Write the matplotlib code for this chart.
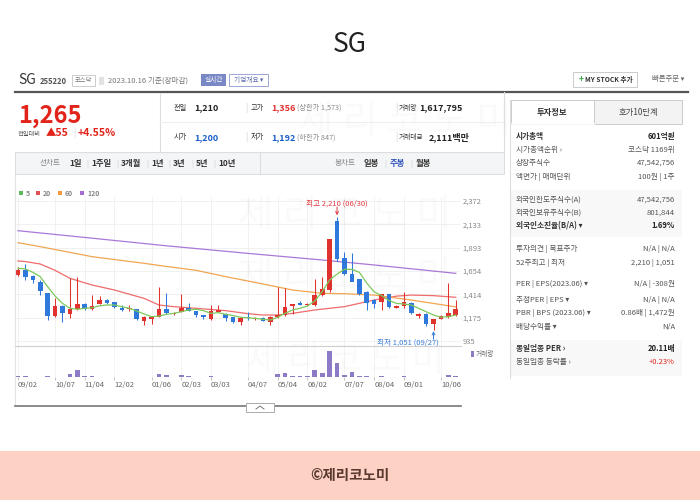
import matplotlib
matplotlib.use('Agg')
import matplotlib.pyplot as plt
from matplotlib.patches import Rectangle
from matplotlib.lines import Line2D

plt.rcParams['font.family'] = ['Noto Sans CJK KR', 'DejaVu Sans']

# ---------------- data ----------------
opens  = [1610,1665,1600,1540,1430,1195,1295,1210,1262,1310,1265,1318,1355,1330,1275,1262,1260,1142,1165,1183,
          1258,1210,1235,1275,1240,1200,1165,1235,1215,1180,1130,1185,1165,1175,1130,1180,1200,1290,1320,1300,
          1305,1405,1455,2170,1785,1620,1568,1440,1355,1338,1414,1276,1294,1322,1190,1212,1105,1165,1180,1200]
highs  = [1690,1730,1610,1560,1430,1375,1300,1580,1590,1320,1405,1400,1362,1335,1300,1300,1262,1190,1183,1486,
          1425,1230,1415,1320,1245,1205,1305,1305,1220,1185,1185,1230,1180,1180,1190,1486,1476,1310,1345,1320,
          1570,1595,1985,2210,1850,1840,1575,1450,1370,1420,1420,1300,1440,1330,1220,1225,1160,1200,1533,1356]
lows   = [1600,1560,1530,1405,1150,1180,1130,1170,1255,1250,1255,1310,1318,1270,1245,1245,1150,1095,1110,1180,
          1210,1205,1230,1240,1180,1165,1150,1230,1140,1120,1100,1150,1145,1135,1095,1175,1190,1215,1300,1295,
          1290,1395,1440,1760,1610,1590,1410,1253,1270,1253,1270,1270,1270,1210,1175,1092,1051,1160,1170,1192]
closes = [1665,1590,1560,1450,1190,1295,1220,1262,1312,1262,1290,1355,1322,1280,1255,1275,1157,1183,1183,1258,
          1218,1225,1275,1245,1200,1180,1245,1250,1175,1125,1175,1170,1172,1142,1183,1200,1286,1310,1305,1315,
          1405,1465,1980,1773,1623,1543,1417,1322,1314,1414,1287,1295,1338,1218,1212,1109,1157,1195,1225,1265]
volumes = [1.3,1.3,0.8,0.8,1.3,0.8,0.8,4.3,10.7,1.3,1.3,0.8,0.5,0.5,0.5,0.5,0.8,0.5,0.5,5.4,
           2.7,0.5,2.7,1.3,0.5,0.5,1.3,0.8,0.5,0.5,0.5,0.5,0.5,0.5,0.5,5.4,7.0,1.6,1.3,1.3,
           11.8,7.0,41.1,22.4,3.2,8.0,1.6,1.3,0.8,1.3,0.8,0.5,1.3,0.8,0.5,0.8,0.8,0.8,3.8,1.6]

ma5 = [1681,1675,1640,1595,1492,1396,1321,1270,1260,1270,1276,1296,1304,1304,1287,1270,1242,1212,1184,1190,
       1208,1218,1235,1253,1260,1246,1218,1225,1208,1195,1178,1172,1167,1157,1150,1178,1218,1253,1270,1294,
       1345,1441,1561,1622,1670,1670,1640,1530,1440,1400,1350,1321,1314,1304,1270,1235,1201,1178,1184,1201]
ma20_idx = [0,1,3,5,7,10,13,17,19,21,24,28,31,33,35,37,40,44,48,51,53,56,59]
ma20 = [1756,1750,1725,1660,1578,1509,1458,1372,1304,1287,1270,1246,1215,1201,1201,1218,1253,1287,1355,1395,1406,1400,1383]
ma60_idx = [0,3,10,17,20,24,28,33,37,41,44,48,53,59]
ma60 = [1944,1903,1800,1732,1700,1660,1595,1520,1458,1424,1420,1406,1355,1285]
ma120_idx = [0,10,20,31,41,48,59]
ma120 = [2067,1990,1912,1834,1766,1715,1629]

tick_idx = [0,5,9,13,18,22,26,31,35,39,44,48,52,57]
tick_lbl = ['09/02','10/07','11/04','12/02','01/06','02/03','03/03','04/07','05/04','06/02','07/07','08/04','09/01','10/06']
ytick_vals = [935,1175,1414,1654,1893,2133,2372]

# ---------------- helpers ----------------
W, H = 700, 500
fig = plt.figure(figsize=(7, 5), dpi=100)
fig.patch.set_facecolor('white')

def fx(x): return x / W
def fy(y): return 1 - y / H

def T(x, y, s, size=5.5, color='#333333', weight='normal', ha='left', va='center', **kw):
    return fig.text(fx(x), fy(y), s, fontsize=size, color=color, fontweight=weight, ha=ha, va=va, **kw)

def HL(x1, x2, y, color='#dddddd', lw=0.8, z=2):
    fig.add_artist(Line2D([fx(x1), fx(x2)], [fy(y), fy(y)], color=color, lw=lw, zorder=z))

def VL(x, y1, y2, color='#dddddd', lw=0.8, z=2):
    fig.add_artist(Line2D([fx(x), fx(x)], [fy(y1), fy(y2)], color=color, lw=lw, zorder=z))

def R(x1, y1, x2, y2, fc, ec='none', lw=0.7, z=1):
    fig.add_artist(Rectangle((fx(x1), fy(y2)), (x2 - x1) / W, (y2 - y1) / H,
                             facecolor=fc, edgecolor=ec, lw=lw, transform=fig.transFigure, zorder=z))

UP, DN = '#e0322f', '#2f78dc'

# ---------------- watermark (very faint) ----------------
for (wx, wy, ws) in [(405, 122, 28), (345, 216, 28), (345, 278, 28), (345, 361, 26)]:
    T(wx, wy, '제 리 코 노 미', size=ws, color='#000000', ha='center', alpha=0.018, zorder=0)

# ---------------- title ----------------
T(350, 45, 'SG', size=19, color='#222222', ha='center')

# ---------------- header ----------------
T(18, 80, 'SG', size=10, color='#333333')
T(40, 81, '255220', size=5.5, color='#555555', weight='bold')
R(72, 75, 95, 86, 'white', '#cccccc')
T(83.5, 80.5, '코스닥', size=4.5, color='#777777', ha='center', zorder=3)
R(99, 77, 104, 85, '#e2e2e2')
T(108, 80.5, '2023.10.16 기준(장마감)', size=5.5, color='#777777')
R(201, 74, 226, 86, '#7a88c6')
T(213.5, 80, '실시간', size=4.8, color='white', ha='center', zorder=3)
R(229, 74, 268, 86, 'white', '#9aa6d6')
T(248.5, 80, '기업개요 ▾', size=4.8, color='#5c6cb0', ha='center', zorder=3)

R(573, 72, 637, 87, 'white', '#cccccc')
T(579, 79.5, '+', size=6, color='#33aa44', weight='bold', zorder=3)
T(585, 79.5, 'MY STOCK 추가', size=4.8, color='#333333', weight='bold', zorder=3)
T(652, 79.5, '빠른주문 ▾', size=5.3, color='#666666')

HL(15, 688, 92, color='#555555', lw=1.6)

# ---------------- price table ----------------
T(18, 116, '1,265', size=17, color='#e2231a', weight='bold')
T(18, 134, '전일대비', size=4.5, color='#555555')
T(46, 133.5, '▲55', size=7.5, color='#e2231a', weight='bold')
T(73, 133.5, '|', size=6, color='#cccccc')
T(78, 133.5, '+4.55%', size=7.5, color='#e2231a', weight='bold')
VL(160, 93, 152)
HL(160, 504, 122, color='#eeeeee')
VL(504, 92, 152)
HL(15, 504, 152, color='#dddddd')

rows = [(108, '전일', '1,210', '#222222', '고가', '1,356', UP, '(상한가 1,573)', '거래량', '1,617,795', 419),
        (137.5, '시가', '1,200', '#1a5ec9', '저가', '1,192', '#1a5ec9', '(하한가 847)', '거래대금', '2,111백만', 429)]
for (ry, l1, v1, c1, l2, v2, c2, extra, l3, v3, x3) in rows:
    T(174, ry, l1, size=5.2, color='#333333')
    T(194, ry, v1, size=6.5, color=c1, weight='bold')
    T(245, ry, '|', size=6, color='#cccccc')
    T(251, ry, l2, size=5.2, color='#333333')
    T(271, ry, v2, size=6.5, color=c2, weight='bold')
    T(297, ry, extra, size=5.2, color='#888888')
    T(395, ry, '|', size=6, color='#cccccc')
    T(399, ry, l3, size=4.8, color='#333333')
    T(x3, ry, v3, size=6.5, color='#222222', weight='bold')

# ---------------- toolbar ----------------
R(15, 152, 504, 174, '#f4f5f7', '#dddddd')
ty = 163.5
T(40, ty, '선차트', size=5.5, color='#888888', zorder=3)
for (tx, s) in [(69, '1일'), (91, '1주일'), (121, '3개월'), (151, '1년'), (173, '3년'), (196, '5년'), (218, '10년')]:
    T(tx, ty, s, size=6, color='#333333', weight='bold', zorder=3)
for sx in [86, 116, 146, 168, 191, 213]:
    T(sx, ty, '|', size=5, color='#cccccc', zorder=3)
VL(260, 152, 174, z=3)
T(335, ty, '봉차트', size=5.5, color='#888888', zorder=3)
T(364, ty, '일봉', size=6, color='#333333', weight='bold', zorder=3)
T(390, ty, '주봉', size=6, color='#3355bb', weight='bold', zorder=3)
T(416, ty, '월봉', size=6, color='#333333', weight='bold', zorder=3)
for sx in [384, 410]:
    T(sx, ty, '|', size=5, color='#cccccc', zorder=3)

# ---------------- chart legend ----------------
for (lx, c, s) in [(19, '#5cb85c', '5'), (36, '#e05050', '20'), (58, '#f39a3c', '60'), (80, '#a56bd3', '120')]:
    R(lx, 191, lx + 4, 195, c)
    T(lx + 7, 193, s, size=5, color='#888888', weight='bold')

# ---------------- price axes ----------------
ax = fig.add_axes([fx(15), fy(346), 445 / W, (346 - 197) / H])
ax.set_xlim(-0.40, 59.57)
ax.set_ylim(883, 2413)
ax.patch.set_alpha(0)
for s in ax.spines.values():
    s.set_visible(False)
for v in ytick_vals:
    ax.axhline(v, color='#efefef', lw=0.6, zorder=0)
for t in tick_idx:
    ax.axvline(t, color='#efefef', lw=0.6, zorder=0)

for i in range(len(opens)):
    o, h, l, c = opens[i], highs[i], lows[i], closes[i]
    col = UP if c >= o else DN
    ax.vlines(i, l, h, color=col, lw=0.75, zorder=3)
    body = max(abs(c - o), 9)
    ax.bar(i, body, bottom=min(o, c), width=0.62, color=col, zorder=4, linewidth=0)

ax.plot(range(len(ma5)), ma5, color='#7cc95c', lw=0.9, zorder=5)
ax.plot(ma20_idx, ma20, color='#ee6b6b', lw=0.9, zorder=2)
ax.plot(ma60_idx, ma60, color='#f2a552', lw=0.9, zorder=2)
ax.plot(ma120_idx, ma120, color='#a978d8', lw=0.9, zorder=2)

ax.yaxis.tick_right()
ax.set_yticks(ytick_vals)
ax.set_yticklabels([f'{v:,}' for v in ytick_vals])
ax.tick_params(axis='y', length=0, pad=2, labelsize=5.5, labelcolor='#888888')
ax.set_xticks([])

imax = highs.index(max(highs))
imin = lows.index(min(lows))
ax.annotate(f'최고 {max(highs):,} (06/30)', xy=(imax, max(highs)), xytext=(0, 9.5), textcoords='offset points',
            ha='center', va='center', fontsize=5.5, color='#e0393e', annotation_clip=False)
ax.annotate('', xy=(imax, max(highs) + 15), xytext=(0, 6), textcoords='offset points',
            arrowprops=dict(arrowstyle='->', color='#e0393e', lw=0.7, shrinkA=0, shrinkB=0, mutation_scale=5))
ax.annotate(f'최저 {min(lows):,} (09/27)', xy=(imin, min(lows)), xytext=(3.5, -9.5), textcoords='offset points',
            ha='right', va='center', fontsize=5.5, color='#3b7dd8', annotation_clip=False)
ax.annotate('', xy=(imin, min(lows) - 15), xytext=(0, -6), textcoords='offset points',
            arrowprops=dict(arrowstyle='->', color='#3b7dd8', lw=0.7, shrinkA=0, shrinkB=0, mutation_scale=5))

# ---------------- volume axes ----------------
axv = fig.add_axes([fx(15), fy(377), 445 / W, 31 / H])
axv.set_xlim(-0.40, 59.57)
axv.set_ylim(0, 49.6)
axv.patch.set_alpha(0)
for s in axv.spines.values():
    s.set_visible(False)
for t in tick_idx:
    axv.axvline(t, color='#f2f2f2', lw=0.6, zorder=0)
axv.bar(range(len(volumes)), volumes, width=0.62, color='#8e7bc8', linewidth=0, zorder=3)
axv.set_yticks([])
axv.set_xticks(tick_idx)
axv.set_xticklabels(tick_lbl, ha='left')
axv.tick_params(axis='x', length=2.5, width=0.6, color='#bbbbbb', pad=0.5, labelsize=5.5, labelcolor='#666666')
R(471, 351, 474, 357, '#8e7bc8')
T(476, 354, '거래량', size=4.8, color='#666666')

# chart frame
VL(15, 174, 406, color='#e3e3e3')
HL(15, 461, 346, color='#cfcfcf')
HL(15, 461, 406, color='#777777', lw=1.2)
R(246, 403, 274, 412, 'white', '#aaaaaa', z=3)
fig.add_artist(Line2D([fx(256), fx(260), fx(264)], [fy(409), fy(406), fy(409)], color='#777777', lw=0.7, zorder=4))

# ---------------- right info panel ----------------
VL(510, 100, 378, color='#dddddd')
R(511, 100, 594, 124, 'white', '#cccccc', z=2)
R(594, 100, 682, 124, '#f3f3f3', '#cccccc', z=2)
HL(511.5, 593.5, 124, color='white', lw=1.2, z=3)
T(552, 112, '투자정보', size=6, color='#333333', weight='bold', ha='center', zorder=4)
T(638, 112, '호가10단계', size=6, color='#444444', ha='center', zorder=4)

R(511, 190, 682, 237, '#f8f8f8', z=1)
R(511, 340, 682, 376, '#f8f8f8', z=1)

info = [
    (137, '시가총액', '601억원', '#222222', True),
    (150, '시가총액순위 ›', '코스닥 1169위', '#555555', False),
    (163, '상장주식수', '47,542,756', '#555555', False),
    (177, '액면가 | 매매단위', '100원 | 1주', '#555555', False),
    (199.5, '외국인한도주식수(A)', '47,542,756', '#555555', False),
    (212.5, '외국인보유주식수(B)', '801,844', '#555555', False),
    (226, '외국인소진율(B/A) ▾', '1.69%', '#222222', True),
    (249, '투자의견 | 목표주가', 'N/A | N/A', '#555555', False),
    (263, '52주최고 | 최저', '2,210 | 1,051', '#555555', False),
    (284, 'PER | EPS(2023.06) ▾', 'N/A | -308원', '#555555', False),
    (300, '추정PER | EPS ▾', 'N/A | N/A', '#555555', False),
    (313, 'PBR | BPS (2023.06) ▾', '0.86배 | 1,472원', '#555555', False),
    (327, '배당수익률 ▾', 'N/A', '#555555', False),
    (349, '동일업종 PER ›', '20.11배', '#222222', True),
    (362, '동일업종 등락률 ›', '+0.23%', '#e2231a', False),
]
for (iy, lab, val, vc, bold) in info:
    w = 'bold' if bold else 'normal'
    T(516, iy, lab, size=5.5, color='#333333' if bold else '#555555', weight=w, zorder=3)
    T(675, iy, val, size=5.5, color=vc, weight=w, ha='right', zorder=3)

# ---------------- footer ----------------
R(0, 451, 700, 500, '#fdd1c4', z=1)
T(350, 475, '©제리코노미', size=10.5, color='#5a3a30', weight='bold', ha='center', zorder=3)

fig.savefig('out.png', dpi=100, facecolor='white')
